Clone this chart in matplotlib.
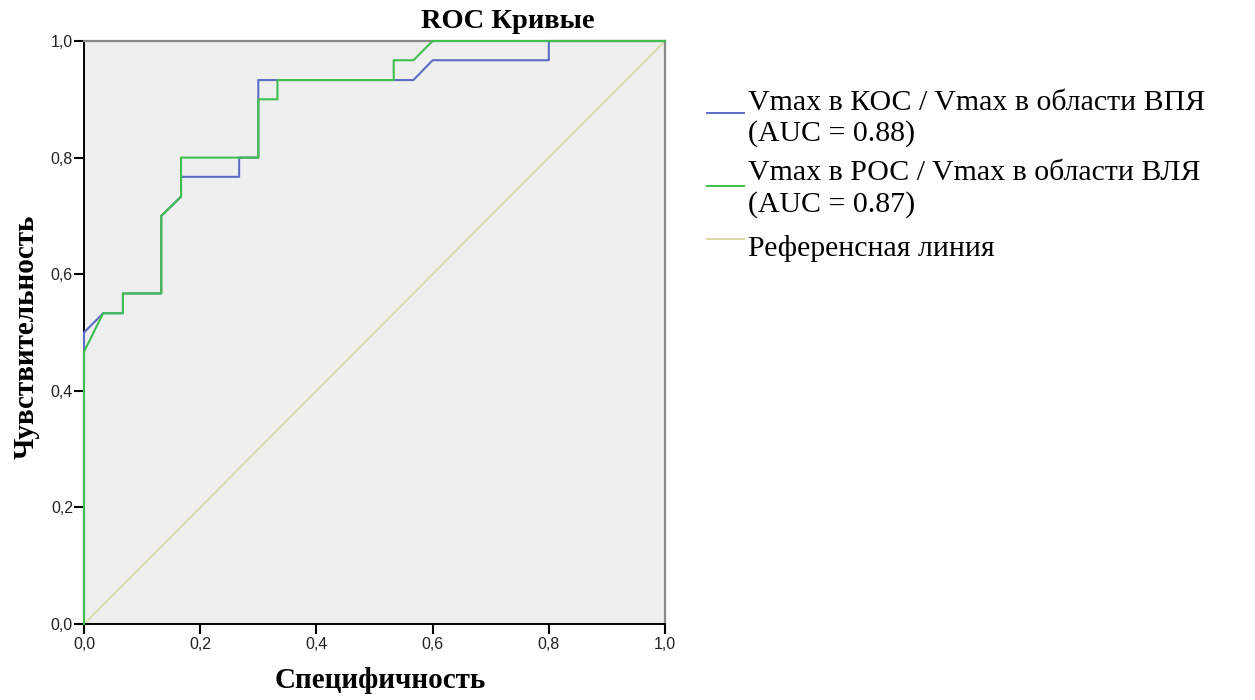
import matplotlib.pyplot as plt
from matplotlib.lines import Line2D
from matplotlib.ticker import FuncFormatter

# ROC curve points (x = axis "Специфичность", y = "Чувствительность")
kos_x = [0.0, 0.0, 0.033, 0.067, 0.067, 0.133, 0.133, 0.167, 0.167, 0.267, 0.267, 0.3, 0.3,
         0.567, 0.6, 0.8, 0.8, 1.0]
kos_y = [0.0, 0.5, 0.533, 0.533, 0.567, 0.567, 0.7, 0.733, 0.767, 0.767, 0.8, 0.8, 0.933,
         0.933, 0.967, 0.967, 1.0, 1.0]

ros_x = [0.0, 0.0, 0.033, 0.067, 0.067, 0.133, 0.133, 0.167, 0.167, 0.3, 0.3, 0.333, 0.333,
         0.533, 0.533, 0.567, 0.6, 1.0]
ros_y = [0.0, 0.467, 0.533, 0.533, 0.567, 0.567, 0.7, 0.733, 0.8, 0.8, 0.9, 0.9, 0.933,
         0.933, 0.967, 0.967, 1.0, 1.0]

ref_x = [0.0, 1.0]
ref_y = [0.0, 1.0]

labels = [["Vmax в КОС / Vmax в области ВПЯ", "(AUC = 0.88)"],
          ["Vmax в РОС / Vmax в области ВЛЯ", "(AUC = 0.87)"],
          ["Референсная линия"]]
ticks = [0.0, 0.2, 0.4, 0.6, 0.8, 1.0]

BLUE = "#5b6ec6"
GREEN = "#3fbf4f"
BEIGE = "#dcdca8"
SERIF = "Liberation Serif"
SANS = "Liberation Sans"
W, H = 1255, 700

fig = plt.figure(figsize=(12.55, 7), dpi=100)
ax = fig.add_axes([84 / W, 76 / H, 581 / W, 583 / H])
ax.set_facecolor("#efefef")

ax.plot(ref_x, ref_y, color=BEIGE, lw=1.4, zorder=2)
ax.plot(kos_x, kos_y, color=BLUE, lw=1.5, zorder=3, clip_on=False)
ax.plot(ros_x, ros_y, color=GREEN, lw=1.5, zorder=4, clip_on=False)

ax.set_xlim(0, 1)
ax.set_ylim(0, 1)
ax.set_xticks(ticks)
ax.set_yticks(ticks)
fmt = FuncFormatter(lambda v, p: f"{v:.1f}".replace(".", ","))
ax.xaxis.set_major_formatter(fmt)
ax.yaxis.set_major_formatter(fmt)
ax.tick_params(direction="out", length=7.5, width=1.5, labelsize=11.5,
               labelcolor="#222222")
ax.tick_params(axis="x", pad=2)
ax.tick_params(axis="y", pad=0.5)
for lab in ax.get_xticklabels() + ax.get_yticklabels():
    lab.set_family(SANS)

for side in ["left", "bottom"]:
    ax.spines[side].set_color("black")
    ax.spines[side].set_linewidth(1.4)
for side in ["top", "right"]:
    ax.spines[side].set_color("#8a8a8a")
    ax.spines[side].set_linewidth(1.6)

fig.text(508 / W, 1 - 28.5 / H, "ROC Кривые", ha="center", va="baseline",
         fontsize=20.5, fontweight="bold", family=SERIF)
fig.text(380 / W, 1 - 688 / H, "Специфичность", ha="center", va="baseline",
         fontsize=21, fontweight="bold", family=SERIF)
fig.text(26 / W, 1 - 337 / H, "Чувствительность", ha="center", va="center",
         rotation=90, fontsize=21, fontweight="bold", family=SERIF)

# legend drawn by hand to match the SPSS layout
handle_y = [113, 186, 239]
baselines = [[109.5, 141], [180, 211.5], [256.5]]
colors = [BLUE, GREEN, BEIGE]
for hy, bl, c, lab in zip(handle_y, baselines, colors, labels):
    fig.add_artist(Line2D([707 / W, 744 / W], [1 - hy / H, 1 - hy / H],
                          color=c, lw=1.4))
    for y, line in zip(bl, lab):
        fig.text(748 / W, 1 - y / H, line, ha="left", va="baseline",
                 fontsize=21.5, family=SERIF)

fig.savefig("out.png", dpi=100)
